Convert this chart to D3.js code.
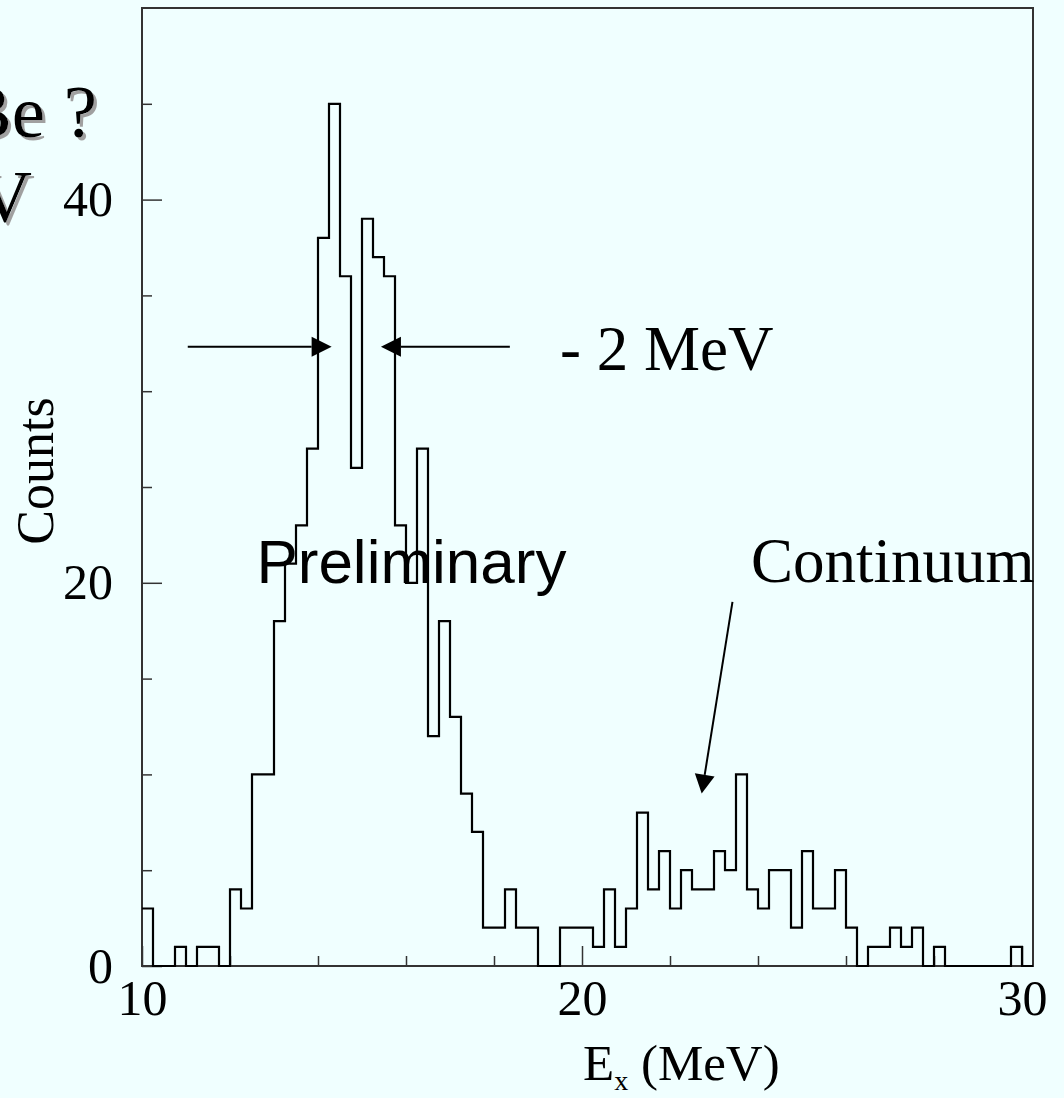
<!DOCTYPE html>
<html>
<head>
<meta charset="utf-8">
<script src="https://cdnjs.cloudflare.com/ajax/libs/d3/7.8.5/d3.min.js"></script>
<style>
  html, body { margin: 0; padding: 0; background: #f0ffff; }
  svg { display: block; }
  .serif { font-family: "Times New Roman", "Liberation Serif", serif; }
</style>
</head>
<body>
<div id="chart"></div>
<script>
// histogram: counts per 0.25 MeV bin, first bin starts at 10 MeV
var binStart = 10;
var binWidth = 0.25;
var counts = [
   3,  0,  0,  1,  0,  1,  1,  0,  4,  3,
  10, 10, 18, 21, 23, 27, 38, 45, 36, 26,
  39, 37, 36, 23, 20, 27, 12, 18, 13,  9,
   7,  2,  2,  4,  2,  2,  0,  0,  2,  2,
   2,  1,  4,  1,  3,  8,  4,  6,  3,  5,
   4,  4,  6,  5, 10,  4,  3,  5,  5,  2,
   6,  3,  3,  5,  2,  0,  1,  1,  2,  1,
   2,  0,  1,  0,  0,  0,  0,  0,  0,  1,
   0
];

var xMajorTicks = [10, 20, 30];
var xMinorTicks = [12, 14, 16, 18, 22, 24, 26, 28];
var yMajorTicks = [0, 20, 40];
var yMinorTicks = [5, 10, 15, 25, 30, 35, 45];

var W = 1064, H = 1098;
var config = { left: 142, right: 1033, top: 8, bottom: 966 };

var svg = d3.select("#chart").append("svg")
    .attr("width", W)
    .attr("height", H);

svg.append("rect")
    .attr("width", W).attr("height", H)
    .attr("fill", "#f0ffff");

// grey drop shadow for the slide title
svg.append("defs").append("filter")
    .attr("id", "shadow")
    .attr("x", "-10%").attr("y", "-10%")
    .attr("width", "130%").attr("height", "130%")
    .append("feDropShadow")
    .attr("dx", 3).attr("dy", 3)
    .attr("stdDeviation", 0.6)
    .attr("flood-color", "#a0a0a0")
    .attr("flood-opacity", 1);

var x = d3.scaleLinear()
    .domain([10, 30.25])
    .range([config.left, config.right]);

var y = d3.scaleLinear()
    .domain([0, 50])
    .range([config.bottom, config.top]);

// slide title, cut off on the left side like in the original
var title = [
  { text: "Be ?", x: 97, y: 137 },
  { text: "MeV", x: 32, y: 222 }
];
title.forEach(function(t){
  svg.append("text").attr("class", "serif")
      .attr("x", t.x).attr("y", t.y)
      .attr("text-anchor", "end")
      .attr("font-size", 75)
      .attr("fill", "#000")
      .attr("filter", "url(#shadow)")
      .text(t.text);
});

// axes
function styleAxis(g){
  g.select(".domain").remove();
  g.selectAll(".tick line").attr("stroke", "#333").attr("stroke-width", 1.5);
  g.selectAll(".tick text")
      .attr("class", "serif")
      .attr("font-size", 50)
      .attr("font-family", "'Times New Roman', 'Liberation Serif', serif")
      .attr("fill", "#000");
}

svg.append("g")
    .attr("transform", "translate(" + config.left + ",0)")
    .call(d3.axisLeft(y).tickValues(yMinorTicks).tickSize(-10).tickFormat(""))
    .call(styleAxis);
svg.append("g")
    .attr("transform", "translate(" + config.left + ",0)")
    .call(d3.axisLeft(y).tickValues(yMajorTicks).tickSize(-20).tickPadding(29).tickFormat(d3.format("d")))
    .call(styleAxis);

svg.append("g")
    .attr("transform", "translate(0," + config.bottom + ")")
    .call(d3.axisBottom(x).tickValues(xMinorTicks).tickSize(-10).tickFormat(""))
    .call(styleAxis);
svg.append("g")
    .attr("transform", "translate(0," + config.bottom + ")")
    .call(d3.axisBottom(x).tickValues(xMajorTicks).tickSize(-20).tickPadding(13).tickFormat(d3.format("d")))
    .call(styleAxis);

// frame
svg.append("rect")
    .attr("x", x(10)).attr("y", y(50))
    .attr("width", x(30.25) - x(10))
    .attr("height", y(0) - y(50))
    .attr("fill", "none")
    .attr("stroke", "#333")
    .attr("stroke-width", 2);

// histogram outline
var pts = counts.map(function(c, i){ return [binStart + i * binWidth, c]; });
pts.push([binStart + counts.length * binWidth, counts[counts.length - 1]]);

var line = d3.line()
    .x(function(d){ return x(d[0]); })
    .y(function(d){ return y(d[1]); })
    .curve(d3.curveStepAfter);

svg.append("path")
    .datum(pts)
    .attr("d", line)
    .attr("fill", "none")
    .attr("stroke", "#000")
    .attr("stroke-width", 2.2);

// arrows (data coordinates)
function arrow(x1, y1, x2, y2, len, half){
  var px1 = x(x1), py1 = y(y1), px2 = x(x2), py2 = y(y2);
  var dx = px2 - px1, dy = py2 - py1;
  var L = Math.sqrt(dx*dx + dy*dy);
  var ux = dx / L, uy = dy / L;
  var bx = px2 - ux * len, by = py2 - uy * len;
  svg.append("line")
      .attr("x1", px1).attr("y1", py1)
      .attr("x2", bx).attr("y2", by)
      .attr("stroke", "#000").attr("stroke-width", 2);
  svg.append("path")
      .attr("d", "M" + px2 + "," + py2 +
                 "L" + (bx - uy * half) + "," + (by + ux * half) +
                 "L" + (bx + uy * half) + "," + (by - ux * half) + "Z")
      .attr("fill", "#000");
}
arrow(11.04, 32.32, 14.31, 32.32, 20, 10);
arrow(18.36, 32.32, 15.43, 32.32, 20, 10);
arrow(23.42, 19.0, 22.72, 9.0, 19, 10);

// annotations
svg.append("text").attr("class", "serif")
    .attr("x", x(19.5)).attr("y", y(31.1))
    .attr("font-size", 63)
    .text("- 2 MeV");

svg.append("text")
    .attr("x", x(12.6)).attr("y", y(20.0))
    .attr("font-family", "Arial, 'Liberation Sans', sans-serif")
    .attr("font-size", 62)
    .text("Preliminary");

svg.append("text").attr("class", "serif")
    .attr("x", x(23.84)).attr("y", y(20.02))
    .attr("font-size", 63)
    .text("Continuum");

// axis titles
svg.append("text").attr("class", "serif")
    .attr("transform", "translate(53,471) rotate(-90)")
    .attr("text-anchor", "middle")
    .attr("font-size", 52)
    .text("Counts");

var xt = svg.append("text").attr("class", "serif")
    .attr("x", 583).attr("y", 1080)
    .attr("font-size", 51);
xt.append("tspan").text("E");
xt.append("tspan").attr("font-size", 28).attr("dy", 10).text("x");
xt.append("tspan").attr("dy", -10).text(" (MeV)");
</script>
</body>
</html>
